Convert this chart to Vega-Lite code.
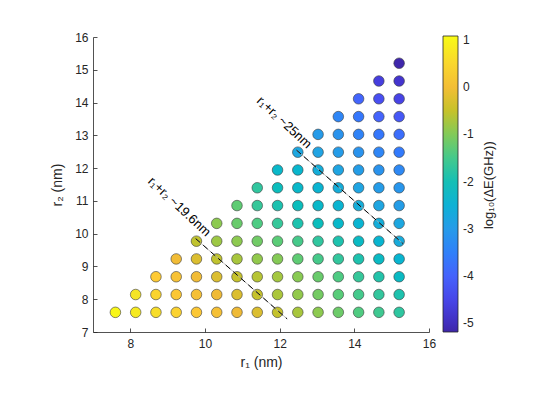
{
  "$schema": "https://vega.github.io/schema/vega-lite/v6.json",
  "width": 336,
  "height": 295,
  "autosize": {"type": "none"},
  "padding": {"left": 93, "top": 37, "right": 116, "bottom": 66},
  "background": "white",
  "config": {
    "view": {"stroke": null},
    "font": "Liberation Sans",
    "axis": {
      "grid": false,
      "domainColor": "#262626",
      "domainWidth": 0.8,
      "tickColor": "#262626",
      "tickWidth": 0.8,
      "labelColor": "#262626",
      "labelFontSize": 12,
      "labelFont": "Liberation Sans",
      "labelOverlap": false,
      "labelFlush": false,
      "titleColor": "#262626",
      "titleFontSize": 14,
      "titleFontWeight": "normal",
      "titleFont": "Liberation Sans"
    }
  },
  "layer": [
    {
      "data": {"values": [
        {"r1":7.6,"r2":7.6,"v":1.0},{"r1":8.143,"r2":7.6,"v":0.8},{"r1":8.686,"r2":7.6,"v":0.6},{"r1":9.229,"r2":7.6,"v":0.42},{"r1":9.771,"r2":7.6,"v":0.22},{"r1":10.314,"r2":7.6,"v":0.05},{"r1":10.857,"r2":7.6,"v":-0.1},{"r1":11.4,"r2":7.6,"v":-0.3},{"r1":11.943,"r2":7.6,"v":-0.52},{"r1":12.486,"r2":7.6,"v":-0.72},{"r1":13.029,"r2":7.6,"v":-0.92},{"r1":13.571,"r2":7.6,"v":-1.15},{"r1":14.114,"r2":7.6,"v":-1.38},{"r1":14.657,"r2":7.6,"v":-1.55},{"r1":15.2,"r2":7.6,"v":-1.72},
        {"r1":8.143,"r2":8.143,"v":0.72},{"r1":8.686,"r2":8.143,"v":0.45},{"r1":9.229,"r2":8.143,"v":0.22},{"r1":9.771,"r2":8.143,"v":0.05},{"r1":10.314,"r2":8.143,"v":-0.1},{"r1":10.857,"r2":8.143,"v":-0.3},{"r1":11.4,"r2":8.143,"v":-0.5},{"r1":11.943,"r2":8.143,"v":-0.7},{"r1":12.486,"r2":8.143,"v":-0.88},{"r1":13.029,"r2":8.143,"v":-1.1},{"r1":13.571,"r2":8.143,"v":-1.3},{"r1":14.114,"r2":8.143,"v":-1.5},{"r1":14.657,"r2":8.143,"v":-1.68},{"r1":15.2,"r2":8.143,"v":-1.9},
        {"r1":8.686,"r2":8.686,"v":0.3},{"r1":9.229,"r2":8.686,"v":0.1},{"r1":9.771,"r2":8.686,"v":-0.05},{"r1":10.314,"r2":8.686,"v":-0.3},{"r1":10.857,"r2":8.686,"v":-0.5},{"r1":11.4,"r2":8.686,"v":-0.62},{"r1":11.943,"r2":8.686,"v":-0.75},{"r1":12.486,"r2":8.686,"v":-0.95},{"r1":13.029,"r2":8.686,"v":-1.18},{"r1":13.571,"r2":8.686,"v":-1.4},{"r1":14.114,"r2":8.686,"v":-1.65},{"r1":14.657,"r2":8.686,"v":-1.85},{"r1":15.2,"r2":8.686,"v":-2.2},
        {"r1":9.229,"r2":9.229,"v":-0.05},{"r1":9.771,"r2":9.229,"v":-0.3},{"r1":10.314,"r2":9.229,"v":-0.55},{"r1":10.857,"r2":9.229,"v":-0.72},{"r1":11.4,"r2":9.229,"v":-0.88},{"r1":11.943,"r2":9.229,"v":-0.98},{"r1":12.486,"r2":9.229,"v":-1.25},{"r1":13.029,"r2":9.229,"v":-1.48},{"r1":13.571,"r2":9.229,"v":-1.68},{"r1":14.114,"r2":9.229,"v":-1.9},{"r1":14.657,"r2":9.229,"v":-2.2},{"r1":15.2,"r2":9.229,"v":-2.4},
        {"r1":9.771,"r2":9.771,"v":-0.55},{"r1":10.314,"r2":9.771,"v":-0.8},{"r1":10.857,"r2":9.771,"v":-0.92},{"r1":11.4,"r2":9.771,"v":-1.12},{"r1":11.943,"r2":9.771,"v":-1.28},{"r1":12.486,"r2":9.771,"v":-1.48},{"r1":13.029,"r2":9.771,"v":-1.7},{"r1":13.571,"r2":9.771,"v":-1.9},{"r1":14.114,"r2":9.771,"v":-2.2},{"r1":14.657,"r2":9.771,"v":-2.4},{"r1":15.2,"r2":9.771,"v":-2.65},
        {"r1":10.314,"r2":10.314,"v":-0.92},{"r1":10.857,"r2":10.314,"v":-1.18},{"r1":11.4,"r2":10.314,"v":-1.4},{"r1":11.943,"r2":10.314,"v":-1.65},{"r1":12.486,"r2":10.314,"v":-1.9},{"r1":13.029,"r2":10.314,"v":-2.1},{"r1":13.571,"r2":10.314,"v":-2.3},{"r1":14.114,"r2":10.314,"v":-2.43},{"r1":14.657,"r2":10.314,"v":-2.6},{"r1":15.2,"r2":10.314,"v":-2.75},
        {"r1":10.857,"r2":10.857,"v":-1.25},{"r1":11.4,"r2":10.857,"v":-1.65},{"r1":11.943,"r2":10.857,"v":-1.92},{"r1":12.486,"r2":10.857,"v":-2.1},{"r1":13.029,"r2":10.857,"v":-2.3},{"r1":13.571,"r2":10.857,"v":-2.43},{"r1":14.114,"r2":10.857,"v":-2.6},{"r1":14.657,"r2":10.857,"v":-2.78},{"r1":15.2,"r2":10.857,"v":-2.95},
        {"r1":11.4,"r2":11.4,"v":-1.7},{"r1":11.943,"r2":11.4,"v":-2.1},{"r1":12.486,"r2":11.4,"v":-2.3},{"r1":13.029,"r2":11.4,"v":-2.43},{"r1":13.571,"r2":11.4,"v":-2.6},{"r1":14.114,"r2":11.4,"v":-2.8},{"r1":14.657,"r2":11.4,"v":-2.98},{"r1":15.2,"r2":11.4,"v":-3.1},
        {"r1":11.943,"r2":11.943,"v":-2.3},{"r1":12.486,"r2":11.943,"v":-2.35},{"r1":13.029,"r2":11.943,"v":-2.6},{"r1":13.571,"r2":11.943,"v":-2.8},{"r1":14.114,"r2":11.943,"v":-2.95},{"r1":14.657,"r2":11.943,"v":-3.15},{"r1":15.2,"r2":11.943,"v":-3.35},
        {"r1":12.486,"r2":12.486,"v":-2.75},{"r1":13.029,"r2":12.486,"v":-2.82},{"r1":13.571,"r2":12.486,"v":-2.98},{"r1":14.114,"r2":12.486,"v":-3.15},{"r1":14.657,"r2":12.486,"v":-3.4},{"r1":15.2,"r2":12.486,"v":-3.6},
        {"r1":13.029,"r2":13.029,"v":-3.0},{"r1":13.571,"r2":13.029,"v":-3.15},{"r1":14.114,"r2":13.029,"v":-3.45},{"r1":14.657,"r2":13.029,"v":-3.65},{"r1":15.2,"r2":13.029,"v":-3.8},
        {"r1":13.571,"r2":13.571,"v":-3.4},{"r1":14.114,"r2":13.571,"v":-3.65},{"r1":14.657,"r2":13.571,"v":-3.98},{"r1":15.2,"r2":13.571,"v":-4.18},
        {"r1":14.114,"r2":14.114,"v":-3.95},{"r1":14.657,"r2":14.114,"v":-4.35},{"r1":15.2,"r2":14.114,"v":-4.55},
        {"r1":14.657,"r2":14.657,"v":-4.65},{"r1":15.2,"r2":14.657,"v":-4.85},
        {"r1":15.2,"r2":15.2,"v":-5.15}
      ]},
      "mark": {"type": "point", "shape": "circle", "filled": true, "size": 112, "opacity": 1, "stroke": "#3a3a3a", "strokeWidth": 0.6},
      "encoding": {
        "x": {"field": "r1", "type": "quantitative", "scale": {"domain": [7, 16], "nice": false, "zero": false},
              "axis": {"values": [8, 10, 12, 14, 16], "title": "r₁ (nm)", "labelPadding": 10, "titlePadding": 6, "tickSize": -4, "labelFlush": false}},
        "y": {"field": "r2", "type": "quantitative", "scale": {"domain": [7, 16], "nice": false, "zero": false},
              "axis": {"tickCount": 10, "labelOverlap": false, "labelSeparation": 0, "title": "r₂ (nm)", "labelPadding": 9, "titlePadding": 10, "tickSize": -4}},
        "color": {"field": "v", "type": "quantitative",
          "scale": {"type": "linear", "interpolate": "rgb",
            "domain": [-5.18, -4.79, -4.385, -3.99, -3.59, -3.2, -2.795, -2.4, -2.1, -1.7, -1.305, -0.905, -0.51, -0.109, 0.285, 0.685, 1.08],
            "range": ["#3e26a8", "#4537d5", "#484cf0", "#4563fc", "#327bfc", "#2b91ef", "#20a5e2", "#08b5d0", "#0bbdbc", "#31c69f", "#57cc7a", "#8fca4e", "#c5c22a", "#efba36", "#fec934", "#f5e327", "#f9fb14"]},
          "legend": {
            "type": "gradient", "orient": "none", "legendX": 350, "legendY": -1, "direction": "vertical",
            "gradientLength": 296, "gradientThickness": 15, "gradientStrokeColor": "#262626", "gradientStrokeWidth": 0.8,
            "values": [-5, -4, -3, -2, -1, 0, 1], "labelExpr": "'' + datum.value", "labelOverlap": false,
            "labelFontSize": 12, "labelColor": "#262626", "labelFont": "Liberation Sans", "labelOffset": 5,
            "title": null
          }}
      }
    },
    {
      "data": {"values": [
        {"seg": "a", "r1": 9.75, "r2": 9.85}, {"seg": "a", "r1": 12.2, "r2": 7.4},
        {"seg": "b", "r1": 12.45, "r2": 12.55}, {"seg": "b", "r1": 15.3, "r2": 9.7}
      ]},
      "mark": {"type": "line", "color": "#b0b0b0", "strokeWidth": 0.8},
      "encoding": {"x": {"field": "r1", "type": "quantitative"}, "y": {"field": "r2", "type": "quantitative"}, "detail": {"field": "seg"}}
    },
    {
      "data": {"values": [
        {"seg": "a", "r1": 9.75, "r2": 9.85}, {"seg": "a", "r1": 12.2, "r2": 7.4},
        {"seg": "b", "r1": 12.45, "r2": 12.55}, {"seg": "b", "r1": 15.3, "r2": 9.7}
      ]},
      "mark": {"type": "line", "color": "#000000", "strokeWidth": 1, "strokeDash": [6, 4]},
      "encoding": {"x": {"field": "r1", "type": "quantitative"}, "y": {"field": "r2", "type": "quantitative"}, "detail": {"field": "seg"}}
    },
    {
      "data": {"values": [
        {"label": "r₁+r₂ ~19.6nm", "r1": 9.31, "r2": 10.82},
        {"label": "r₁+r₂ ~25nm", "r1": 12.12, "r2": 13.39}
      ]},
      "mark": {"type": "text", "angle": 43, "fontSize": 13, "font": "Liberation Sans", "color": "#000000", "align": "center", "baseline": "middle"},
      "encoding": {"x": {"field": "r1", "type": "quantitative"}, "y": {"field": "r2", "type": "quantitative"}, "text": {"field": "label"}}
    },
    {
      "data": {"values": [
        {"label": "log₁₀(ΔE(GHz))", "r1": 17.6, "r2": 11.48}
      ]},
      "mark": {"type": "text", "angle": 270, "fontSize": 13, "font": "Liberation Sans", "color": "#262626", "align": "center", "baseline": "middle"},
      "encoding": {"x": {"field": "r1", "type": "quantitative"}, "y": {"field": "r2", "type": "quantitative"}, "text": {"field": "label"}}
    }
  ]
}
